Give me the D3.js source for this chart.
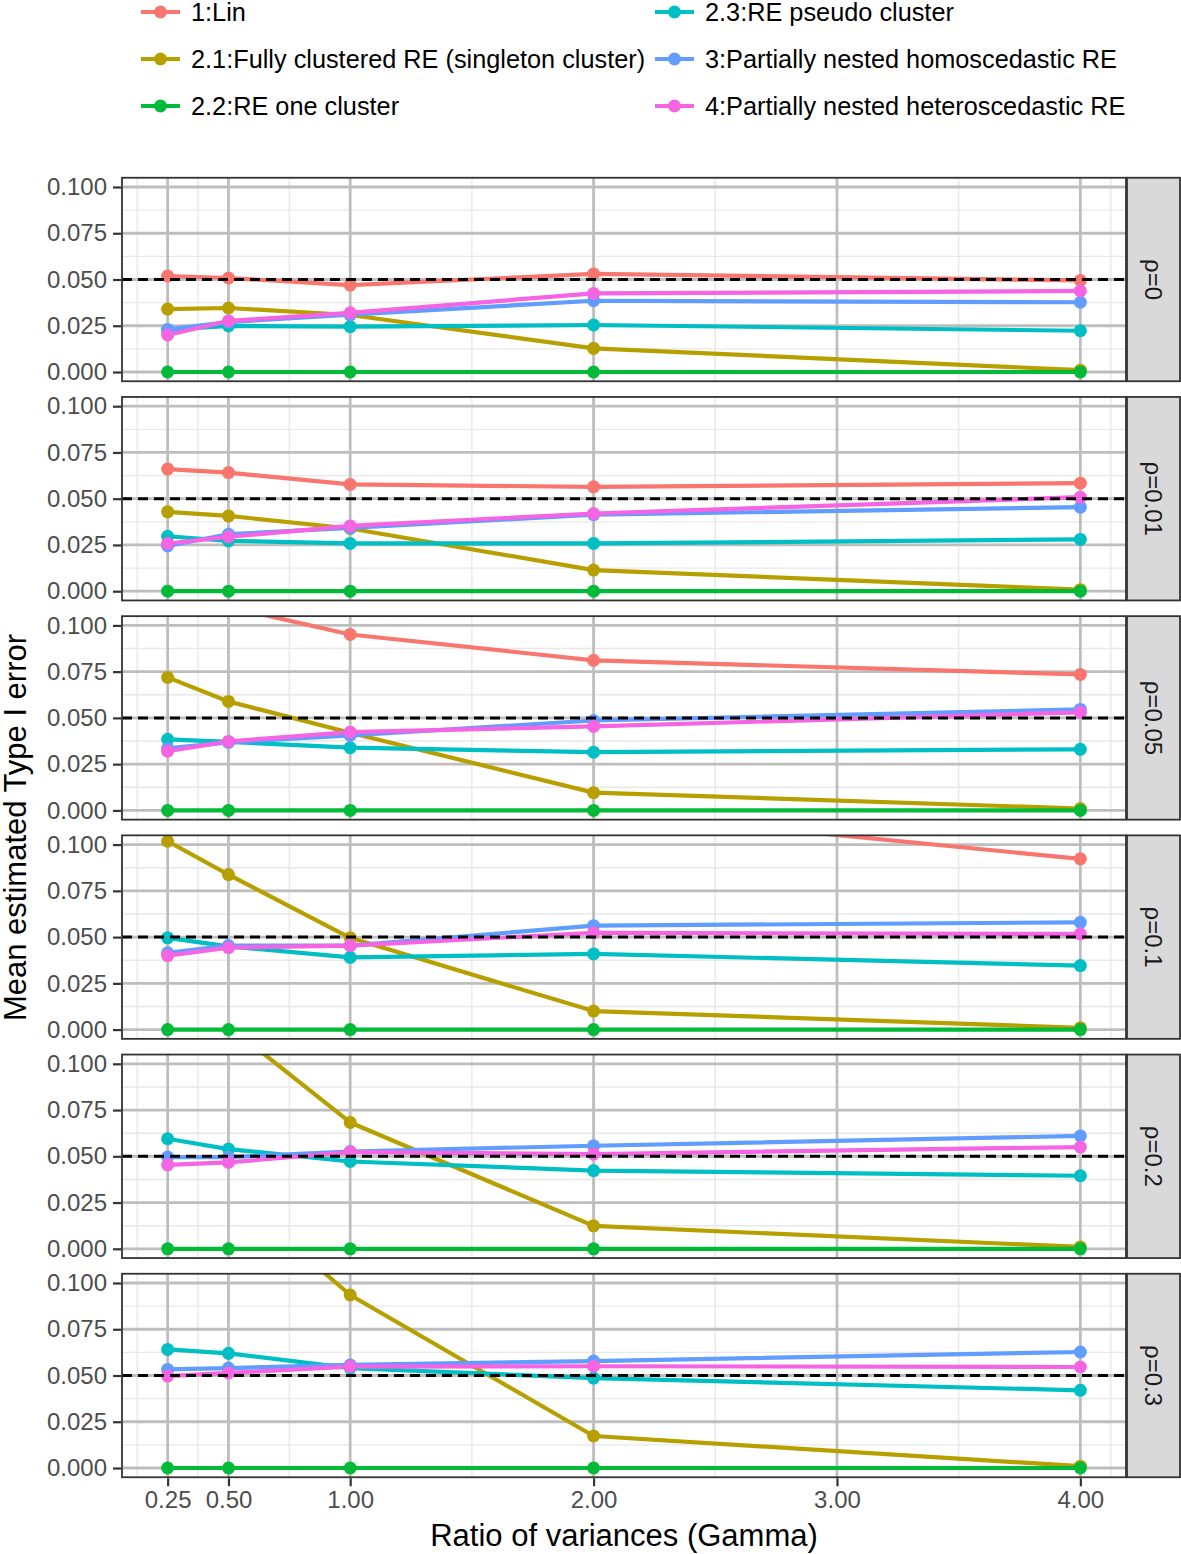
<!DOCTYPE html>
<html>
<head>
<meta charset="utf-8">
<script src="https://cdn.jsdelivr.net/npm/d3@7"></script>
<style>
  html, body { margin: 0; padding: 0; background: #fff; }
  svg { display: block; font-family: "Liberation Sans", Arial, Helvetica, sans-serif; }
</style>
</head>
<body>
<svg id="chart" width="1181" height="1554"></svg>
<script>
// ---------- DATA ----------
const gammas = [0.25, 0.5, 1, 2, 4];
const rhoLabels = ["ρ=0", "ρ=0.01", "ρ=0.05", "ρ=0.1", "ρ=0.2", "ρ=0.3"];
const methods = [
  "1:Lin",
  "2.1:Fully clustered RE (singleton cluster)",
  "2.2:RE one cluster",
  "2.3:RE pseudo cluster",
  "3:Partially nested homoscedastic RE",
  "4:Partially nested heteroscedastic RE"
];
const methodColors = ["#F8766D", "#B79F00", "#00BA38", "#00BFC4", "#619CFF", "#F564E3"];

// values: one row per rho panel, one value per gamma
const linValues = [
  [0.0519, 0.0508, 0.0470, 0.0530, 0.0495],
  [0.0660, 0.0641, 0.0577, 0.0564, 0.0584],
  [0.125, 0.110, 0.0951, 0.0811, 0.0735],
  [0.170, 0.155, 0.140, 0.118, 0.0923],
  [0.195, 0.185, 0.170, 0.150, 0.135],
  [0.225, 0.215, 0.195, 0.175, 0.160]
];
const fullyClusteredValues = [
  [0.0340, 0.0346, 0.0308, 0.0128, 0.0010],
  [0.0429, 0.0407, 0.0339, 0.0114, 0.0008],
  [0.0719, 0.0589, 0.0420, 0.0096, 0.0010],
  [0.1018, 0.0838, 0.0496, 0.0100, 0.0010],
  [0.160, 0.1205, 0.0683, 0.0124, 0.0010],
  [0.190, 0.150, 0.0935, 0.0173, 0.0010]
];
const oneClusterValues = [
  [0, 0, 0, 0, 0],
  [0, 0, 0, 0, 0],
  [0, 0, 0, 0, 0],
  [0, 0, 0, 0, 0],
  [0, 0, 0, 0, 0],
  [0, 0, 0, 0, 0]
];
const pseudoClusterValues = [
  [0.0227, 0.0249, 0.0245, 0.0254, 0.0223],
  [0.0297, 0.0272, 0.0258, 0.0258, 0.0280],
  [0.0384, 0.0370, 0.0339, 0.0315, 0.0330],
  [0.0496, 0.0450, 0.0390, 0.0409, 0.0346],
  [0.0595, 0.0539, 0.0472, 0.0423, 0.0395],
  [0.0641, 0.0620, 0.0540, 0.0486, 0.0420]
];
const homoValues = [
  [0.0230, 0.0270, 0.0310, 0.0385, 0.0377],
  [0.0245, 0.0308, 0.0342, 0.0414, 0.0454],
  [0.0335, 0.0368, 0.0405, 0.0486, 0.0546],
  [0.0415, 0.0454, 0.0454, 0.0562, 0.0580],
  [0.0496, 0.0496, 0.0526, 0.0557, 0.0610],
  [0.0533, 0.0540, 0.0557, 0.0578, 0.0627]
];
const heteroValues = [
  [0.0200, 0.0276, 0.0320, 0.0425, 0.0438],
  [0.0258, 0.0294, 0.0353, 0.0420, 0.0508],
  [0.0320, 0.0373, 0.0423, 0.0454, 0.0530],
  [0.0400, 0.0443, 0.0454, 0.0523, 0.0517],
  [0.0454, 0.0467, 0.0523, 0.0512, 0.0550],
  [0.0497, 0.0514, 0.0548, 0.0550, 0.0546]
];
const seriesValues = [linValues, fullyClusteredValues, oneClusterValues, pseudoClusterValues, homoValues, heteroValues];

const xTicks = [0.25, 0.5, 1, 2, 3, 4];
const xTickLabels = ["0.25", "0.50", "1.00", "2.00", "3.00", "4.00"];
const xMinor = [0.125, 0.375, 0.75, 1.5, 2.5, 3.5, 4.125];
const yTicks = [0, 0.025, 0.05, 0.075, 0.1];
const yTickLabels = ["0.000", "0.025", "0.050", "0.075", "0.100"];
const yMinor = [0.0125, 0.0375, 0.0625, 0.0875];
const refLine = 0.05;
const xTitle = "Ratio of variances (Gamma)";
const yTitle = "Mean estimated Type I error";

// ---------- LAYOUT ----------
const svg = d3.select("#chart");
const panelLeft = 122, panelRight = 1126;
const firstTop = 177.75, panelH = 203.5, panelStep = 219.2;
const stripW = 53;

const x = d3.scaleLinear().domain([0.0625, 4.1875]).range([panelLeft, panelRight]);

const majorGrid = "#BEBEBE", minorGrid = "#E8E8E8";
const tickColor = "#4D4D4D";
const tickFont = 24;

rhoLabels.forEach((lab, p) => {
  const top = firstTop + p * panelStep;
  const bottom = top + panelH;
  const y = d3.scaleLinear().domain([-0.005, 0.105]).range([bottom, top]);
  const g = svg.append("g");

  g.append("rect").attr("x", panelLeft).attr("y", top)
    .attr("width", panelRight - panelLeft).attr("height", panelH).attr("fill", "#fff");

  // minor grid
  g.selectAll(".mx").data(xMinor).enter().append("line")
    .attr("x1", d => x(d)).attr("x2", d => x(d)).attr("y1", top).attr("y2", bottom)
    .attr("stroke", minorGrid).attr("stroke-width", 1.4);
  g.selectAll(".my").data(yMinor).enter().append("line")
    .attr("x1", panelLeft).attr("x2", panelRight).attr("y1", d => y(d)).attr("y2", d => y(d))
    .attr("stroke", minorGrid).attr("stroke-width", 1.4);
  // major grid
  g.selectAll(".Mx").data(xTicks).enter().append("line")
    .attr("x1", d => x(d)).attr("x2", d => x(d)).attr("y1", top).attr("y2", bottom)
    .attr("stroke", majorGrid).attr("stroke-width", 2.8);
  g.selectAll(".My").data(yTicks).enter().append("line")
    .attr("x1", panelLeft).attr("x2", panelRight).attr("y1", d => y(d)).attr("y2", d => y(d))
    .attr("stroke", majorGrid).attr("stroke-width", 2.8);

  const clipId = "clip" + p;
  svg.append("clipPath").attr("id", clipId).append("rect")
    .attr("x", panelLeft).attr("y", top).attr("width", panelRight - panelLeft).attr("height", panelH);
  const plot = g.append("g").attr("clip-path", `url(#${clipId})`);

  const line = d3.line().x((d, i) => x(gammas[i])).y(d => y(d));
  seriesValues.forEach((vals, m) => {
    plot.append("path").attr("d", line(vals[p])).attr("fill", "none")
      .attr("stroke", methodColors[m]).attr("stroke-width", 4.2).attr("stroke-linejoin", "round");
  });
  seriesValues.forEach((vals, m) => {
    plot.selectAll(null).data(vals[p]).enter().append("circle")
      .attr("cx", (d, i) => x(gammas[i])).attr("cy", d => y(d)).attr("r", 6.5)
      .attr("fill", methodColors[m]);
  });
  plot.append("line").attr("x1", panelLeft).attr("x2", panelRight)
    .attr("y1", y(refLine)).attr("y2", y(refLine))
    .attr("stroke", "#000").attr("stroke-width", 3).attr("stroke-dasharray", "10,6");

  g.append("rect").attr("x", panelLeft).attr("y", top)
    .attr("width", panelRight - panelLeft).attr("height", panelH)
    .attr("fill", "none").attr("stroke", "#333").attr("stroke-width", 1.8);

  // y axis
  const yAxis = d3.axisLeft(y).tickValues(yTicks).tickFormat((d, i) => yTickLabels[i])
    .tickSize(8).tickPadding(6);
  const ya = svg.append("g").attr("transform", `translate(${panelLeft - 1},0)`).call(yAxis);
  ya.select(".domain").remove();
  ya.selectAll("line").attr("stroke", "#333").attr("stroke-width", 2.2);
  ya.selectAll("text").attr("fill", tickColor).attr("font-size", tickFont)
    .attr("font-family", "Liberation Sans, Arial, sans-serif");

  // strip
  const sx = panelRight + 1;
  svg.append("rect").attr("x", sx).attr("y", top).attr("width", stripW).attr("height", panelH)
    .attr("fill", "#D9D9D9").attr("stroke", "#333").attr("stroke-width", 1.8);
  svg.append("text")
    .attr("transform", `translate(${sx + stripW / 2},${top + panelH / 2}) rotate(90)`)
    .attr("text-anchor", "middle").attr("dominant-baseline", "central")
    .attr("font-size", 24).attr("fill", "#1A1A1A").text(lab);

  if (p === rhoLabels.length - 1) {
    const xAxis = d3.axisBottom(x).tickValues(xTicks).tickFormat((d, i) => xTickLabels[i])
      .tickSize(8).tickPadding(5);
    const xa = svg.append("g").attr("transform", `translate(0,${bottom + 1})`).call(xAxis);
    xa.select(".domain").remove();
    xa.selectAll("line").attr("stroke", "#333").attr("stroke-width", 2.2);
    xa.selectAll("text").attr("fill", tickColor).attr("font-size", tickFont)
      .attr("font-family", "Liberation Sans, Arial, sans-serif");
  }
});

// axis titles
svg.append("text").attr("x", (panelLeft + panelRight) / 2).attr("y", 1546)
  .attr("text-anchor", "middle").attr("font-size", 31).attr("fill", "#000").text(xTitle);
const lastBottom = firstTop + 5 * panelStep + panelH;
svg.append("text")
  .attr("transform", `translate(26,${(firstTop + lastBottom) / 2}) rotate(-90)`)
  .attr("text-anchor", "middle").attr("font-size", 31).attr("fill", "#000").text(yTitle);

// legend
const legendCols = [141, 655];
const legendRows = [12, 59, 106];
methods.forEach((name, i) => {
  const col = Math.floor(i / 3), row = i % 3;
  const lx = legendCols[col], ly = legendRows[row];
  const lg = svg.append("g");
  lg.append("line").attr("x1", lx).attr("x2", lx + 39).attr("y1", ly).attr("y2", ly)
    .attr("stroke", methodColors[i]).attr("stroke-width", 4.2);
  lg.append("circle").attr("cx", lx + 19.5).attr("cy", ly).attr("r", 6.5).attr("fill", methodColors[i]);
  lg.append("text").attr("x", lx + 50).attr("y", ly).attr("dominant-baseline", "central")
    .attr("font-size", 25.3).attr("fill", "#000").text(name);
});
</script>
</body>
</html>
